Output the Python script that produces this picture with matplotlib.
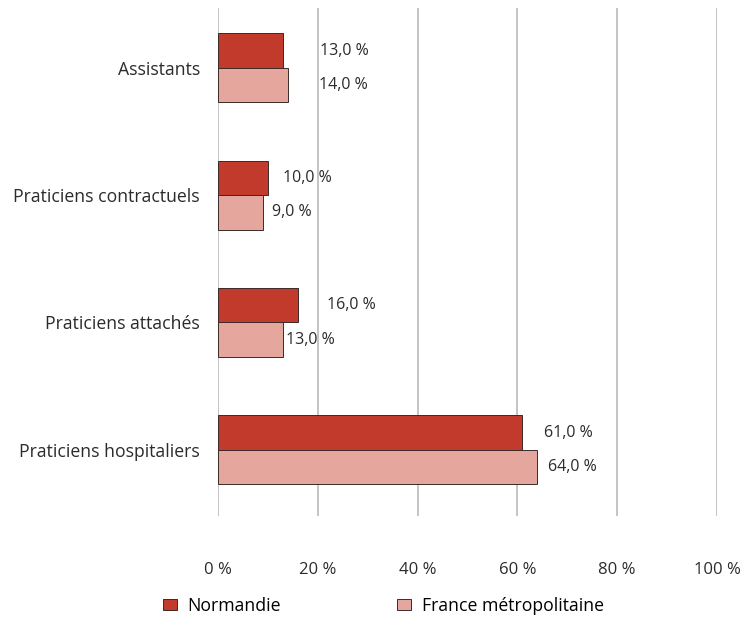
import numpy as np
import matplotlib
matplotlib.use("Agg")
import matplotlib.pyplot as plt
from matplotlib.patches import Patch

plt.rcParams['font.family'] = ['Open Sans', 'DejaVu Sans']

categories = ["Praticiens hospitaliers", "Praticiens attachés",
              "Praticiens contractuels", "Assistants"]
normandie = [61.0, 16.0, 10.0, 13.0]
france = [64.0, 13.0, 9.0, 14.0]
series_names = ["Normandie", "France métropolitaine"]
xticks = [0, 20, 40, 60, 80, 100]

red = "#c23a2b"
pink = "#e4a69d"
edge = "#3a2a28"
grid = "#b4b4b4"
txt = "#2b2b2b"
fs = 11.5
fs_tick = 12
fs_cat = 12.7

# label offsets (pixels) right of bar end, as in the original
off_n = [22, 29, 15, 37]
off_f = [11, 3, 9, 31]

fig = plt.figure(figsize=(7.44, 6.19), dpi=100)
ax = fig.add_axes([218 / 744, 1 - 516 / 619, (717 - 218) / 744, (516 - 8) / 619])

y = np.arange(len(categories))
h = 0.27
bn = ax.barh(y + h / 2, normandie, height=h, color=red, edgecolor=edge, linewidth=0.7, zorder=3)
bf = ax.barh(y - h / 2, france, height=h, color=pink, edgecolor=edge, linewidth=0.7, zorder=3)

for bars, vals, offs in ((bn, normandie, off_n), (bf, france, off_f)):
    for b, v, o in zip(bars, vals, offs):
        ax.annotate(f"{v:.1f} %".replace(".", ","),
                    (b.get_width(), b.get_y() + b.get_height() / 2),
                    xytext=(o * 0.72, 0), textcoords="offset points",
                    ha="left", va="center", fontsize=fs, color=txt, zorder=4)

ax.set_xlim(0, 100)
ax.set_ylim(-0.52, 3.47)
ax.set_xticks(xticks)
ax.set_xticklabels([f"{t} %" for t in xticks])
ax.set_yticks(y)
ax.set_yticklabels(categories)
ax.tick_params(axis="x", length=0, pad=33, labelsize=fs_tick, colors=txt)
ax.tick_params(axis="y", length=0, pad=13, labelsize=fs_cat, colors=txt)
for s in ax.spines.values():
    s.set_visible(False)
ax.grid(axis="x", color=grid, linewidth=1.1, zorder=0)
ax.set_axisbelow(True)

colors = [red, pink]
lefts = [163 / 744, 397 / 744]
for name, c, x0 in zip(series_names, colors, lefts):
    leg = fig.legend([Patch(facecolor=c, edgecolor=edge, linewidth=0.7)], [name],
                     loc="center left", bbox_to_anchor=(x0, 1 - 606 / 619),
                     frameon=False, fontsize=fs_cat, borderpad=0, borderaxespad=0,
                     handlelength=0.8, handleheight=0.6, handletextpad=0.6)

fig.savefig("out.png", dpi=100)
